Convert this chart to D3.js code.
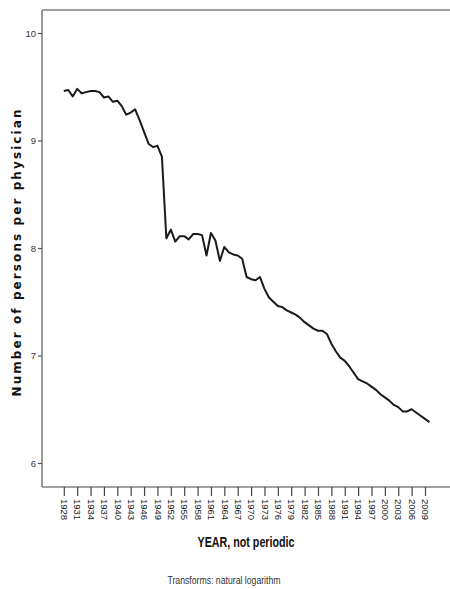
<!DOCTYPE html>
<html>
<head>
<meta charset="utf-8">
<script src="https://cdn.jsdelivr.net/npm/d3@7/dist/d3.min.js"></script>
<style>
  html, body { margin: 0; padding: 0; background: #fff; }
  svg { display: block; }
</style>
</head>
<body>
<svg id="chart" width="450" height="589"></svg>
<script>
// Data (natural log of persons per physician)
const years = d3.range(1928, 2011);
const values = [
  9.46, 9.47, 9.41, 9.48, 9.44, 9.45, 9.46, 9.46, 9.45, 9.40,
  9.41, 9.36, 9.37, 9.32, 9.24, 9.26, 9.29, 9.19, 9.08, 8.97,
  8.94, 8.95, 8.85, 8.09, 8.17, 8.06, 8.11, 8.11, 8.08, 8.13,
  8.13, 8.12, 7.93, 8.14, 8.07, 7.88, 8.01, 7.96, 7.94, 7.93,
  7.90, 7.73, 7.71, 7.70, 7.73, 7.62, 7.54, 7.50, 7.46, 7.45,
  7.42, 7.40, 7.38, 7.35, 7.31, 7.28, 7.25, 7.23, 7.23, 7.20,
  7.11, 7.04, 6.98, 6.95, 6.90, 6.84, 6.78, 6.76, 6.74, 6.71,
  6.68, 6.64, 6.61, 6.58, 6.54, 6.52, 6.48, 6.48, 6.50, 6.47,
  6.44, 6.41, 6.38
];
const yTicks = [6, 7, 8, 9, 10];
const xTickYears = d3.range(1928, 2010, 3);

(function () {
const data = years.map((yr, i) => ({ year: yr, value: values[i] }));

const svg = d3.select("#chart");
const mLeft = 42, mTop = 10, mBottom = 487, mRight = 450;

const x = d3.scaleLinear().domain([1928, 2009]).range([63.8, 425]);
const y = d3.scaleLinear().domain([6, 10]).range([463, 33]);

const axisColor = "#808080";
const narrow = "'Liberation Sans Narrow', 'Liberation Sans', Arial, sans-serif";

// Frame lines
svg.append("line").attr("x1", mLeft).attr("x2", mRight).attr("y1", mTop).attr("y2", mTop)
  .attr("stroke", axisColor).attr("stroke-width", 1.6);
svg.append("line").attr("x1", mLeft).attr("x2", mRight).attr("y1", mBottom).attr("y2", mBottom)
  .attr("stroke", axisColor).attr("stroke-width", 1.6);
svg.append("line").attr("x1", mLeft).attr("x2", mLeft).attr("y1", mTop).attr("y2", mBottom)
  .attr("stroke", axisColor).attr("stroke-width", 1.6);

// Y axis
const yAxis = d3.axisLeft(y).tickValues(yTicks).tickSize(4).tickPadding(2).tickFormat(d3.format("d"));
const gy = svg.append("g").attr("transform", `translate(${mLeft},0)`).call(yAxis);
gy.select(".domain").remove();
gy.selectAll(".tick line").attr("stroke", "#555").attr("stroke-width", 1.2);
gy.selectAll(".tick text").attr("font-family", narrow).attr("font-size", 9.5).attr("fill", "#333");

// X axis
const xAxis = d3.axisBottom(x).tickValues(xTickYears).tickSize(9).tickPadding(0).tickFormat(d3.format("d"));
const gx = svg.append("g").attr("transform", `translate(0,${mBottom})`).call(xAxis);
gx.select(".domain").remove();
gx.selectAll(".tick line").attr("stroke", "#444").attr("stroke-width", 1.2);
gx.selectAll(".tick text")
  .attr("font-family", narrow).attr("font-size", 9.5).attr("fill", "#222")
  .attr("text-anchor", "start")
  .attr("dy", null)
  .attr("y", 0)
  .attr("transform", "translate(-3.3,12) rotate(90)");

// Line
const line = d3.line().x(d => x(d.year)).y(d => y(d.value));
svg.append("path").datum(data)
  .attr("d", line)
  .attr("fill", "none")
  .attr("stroke", "#1a1a1a")
  .attr("stroke-width", 2)
  .attr("stroke-linejoin", "round");

// Titles
svg.append("text")
  .attr("transform", "translate(20.5,253) rotate(-90)")
  .attr("text-anchor", "middle")
  .attr("font-family", "'DejaVu Sans', Verdana, sans-serif")
  .attr("font-weight", "bold")
  .attr("font-size", 12)
  .attr("fill", "#111")
  .attr("textLength", 287)
  .attr("lengthAdjust", "spacing")
  .text("Number of persons per physician");

svg.append("text")
  .attr("x", 246).attr("y", 547)
  .attr("text-anchor", "middle")
  .attr("font-family", narrow)
  .attr("font-weight", "bold")
  .attr("font-size", 14)
  .attr("fill", "#111")
  .attr("textLength", 97)
  .attr("lengthAdjust", "spacingAndGlyphs")
  .text("YEAR, not periodic");

svg.append("text")
  .attr("x", 224).attr("y", 584)
  .attr("text-anchor", "middle")
  .attr("font-family", narrow)
  .attr("font-size", 11)
  .attr("fill", "#333")
  .attr("textLength", 113)
  .attr("lengthAdjust", "spacingAndGlyphs")
  .text("Transforms: natural logarithm");
})();
</script>
</body>
</html>
